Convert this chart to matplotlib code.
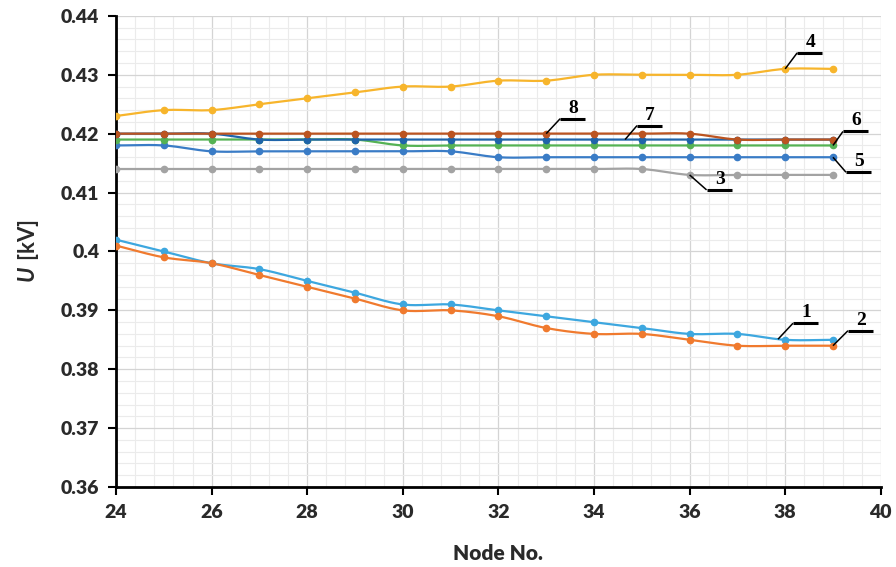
import numpy as np
import matplotlib
matplotlib.use("Agg")
import matplotlib.pyplot as plt
from matplotlib.ticker import MultipleLocator

plt.rcParams["mathtext.fontset"] = "custom"
plt.rcParams["mathtext.rm"] = "Lato"
plt.rcParams["mathtext.bf"] = "Lato:bold"
plt.rcParams["mathtext.bfit"] = "Lato:italic:bold"

nodes = list(range(24, 40))

u1 = [0.402, 0.400, 0.398, 0.397, 0.395, 0.393, 0.391, 0.391,
      0.390, 0.389, 0.388, 0.387, 0.386, 0.386, 0.385, 0.385]
u2 = [0.401, 0.399, 0.398, 0.396, 0.394, 0.392, 0.390, 0.390,
      0.389, 0.387, 0.386, 0.386, 0.385, 0.384, 0.384, 0.384]
u3 = [0.414] * 12 + [0.413] * 4
u4 = [0.423, 0.424, 0.424, 0.425, 0.426, 0.427, 0.428, 0.428,
      0.429, 0.429, 0.430, 0.430, 0.430, 0.430, 0.431, 0.431]
u5 = [0.418, 0.418] + [0.417] * 6 + [0.416] * 8
u6 = [0.419] * 6 + [0.418] * 10
u7 = [0.420] * 3 + [0.419] * 13
u8 = [0.420] * 13 + [0.419] * 3

series = [("1", u1, "#3DA7DF"), ("2", u2, "#F07A2E"), ("3", u3, "#A3A3A3"),
          ("5", u5, "#3A7CC6"), ("6", u6, "#55B254"), ("7", u7, "#1F64AA"),
          ("8", u8, "#BC5420"), ("4", u4, "#F7B52C")]


def smooth(x, y, n=20):
    # catmull-rom, like the smoothed lines in excel
    x = np.asarray(x, float)
    y = np.asarray(y, float)
    xs, ys = [], []
    for i in range(len(x) - 1):
        p0 = i - 1 if i > 0 else i
        p3 = i + 2 if i + 2 < len(x) else i + 1
        mx0 = (x[i + 1] - x[p0]) / 2 if i > 0 else x[i + 1] - x[i]
        my0 = (y[i + 1] - y[p0]) / 2 if i > 0 else y[i + 1] - y[i]
        mx1 = (x[p3] - x[i]) / 2 if i + 2 < len(x) else x[i + 1] - x[i]
        my1 = (y[p3] - y[i]) / 2 if i + 2 < len(x) else y[i + 1] - y[i]
        t = np.linspace(0, 1, n)
        h00 = 2 * t**3 - 3 * t**2 + 1
        h10 = t**3 - 2 * t**2 + t
        h01 = -2 * t**3 + 3 * t**2
        h11 = t**3 - t**2
        xs.append(h00 * x[i] + h10 * mx0 + h01 * x[i + 1] + h11 * mx1)
        ys.append(h00 * y[i] + h10 * my0 + h01 * y[i + 1] + h11 * my1)
    return np.concatenate(xs), np.concatenate(ys)


fig = plt.figure(figsize=(8.96, 5.67), dpi=100)
ax = fig.add_axes([0.1295, 0.141, 0.8535, 0.831])

for name, u, c in series:
    sx, sy = smooth(nodes, u)
    ax.plot(sx, sy, color=c, lw=1.6, zorder=3)
    ax.plot(nodes, u, "o", color=c, ms=4.5, zorder=4)

ax.set_xlim(24, 40)
ax.set_ylim(0.36, 0.44)
ax.xaxis.set_major_locator(MultipleLocator(2))
ax.xaxis.set_minor_locator(MultipleLocator(0.4))
ax.yaxis.set_minor_locator(MultipleLocator(0.002))
ax.set_yticks(np.arange(0.36, 0.4401, 0.01))
ax.set_yticklabels(["0.36", "0.37", "0.38", "0.39", "0.4", "0.41", "0.42", "0.43", "0.44"])
ax.grid(which="major", color="#d4d4d4", lw=0.9, zorder=0)
ax.grid(which="minor", color="#ebebeb", lw=0.8, zorder=0)
ax.set_axisbelow(True)

for s in ["top", "right"]:
    ax.spines[s].set_visible(False)
for s in ["left", "bottom"]:
    ax.spines[s].set_linewidth(2)
ax.tick_params(which="major", direction="out", length=6, width=1.5, pad=6)
ax.tick_params(which="minor", length=0)
for lab in ax.get_xticklabels() + ax.get_yticklabels():
    lab.set_fontfamily("Lato")
    lab.set_fontweight("heavy")
    lab.set_fontsize(14)
    lab.set_color("#2a2a2a")

ax.set_xlabel("Node No.", fontfamily="Lato", fontweight="heavy", fontsize=15,
              color="#2a2a2a", labelpad=17)
ax.set_ylabel(r"$\bfit{U}\ \mathbf{[kV]}$", fontsize=16,
              color="#2a2a2a", labelpad=14)

# curve labels: text, point on the curve, offset of the leader end (px)
labels = [("4", 38, u4[14], 12, 16), ("8", 33, u8[9], 14, 15),
          ("7", 34.65, u7[10], 12, 14), ("6", 39, u6[15], 10, 14),
          ("5", 39, u5[15], 13, -15), ("3", 36, u3[12], 17, -15),
          ("1", 37.85, 0.3851, 15, 16), ("2", 39, u2[15], 15, 15)]

to_px = ax.transData
inv = ax.transData.inverted()
for txt, x, y, dx, dy in labels:
    px, py = to_px.transform((x, y))
    x1, y1 = inv.transform((px + dx, py + dy))
    x2, y2 = inv.transform((px + dx + 25, py + dy))
    xm, ym = inv.transform((px + dx + 13, py + dy + 2))
    ax.plot([x, x1], [y, y1], color="black", lw=1.1, zorder=5,
            clip_on=False, solid_capstyle="butt")
    ax.plot([x1, x2], [y1, y2], color="black", lw=2.2, zorder=5, clip_on=False,
            solid_capstyle="butt")
    ax.text(xm, ym, txt, ha="center", va="bottom", fontfamily="Liberation Serif",
            fontweight="bold", fontsize=14, zorder=6)

fig.savefig("out.png", dpi=100)
